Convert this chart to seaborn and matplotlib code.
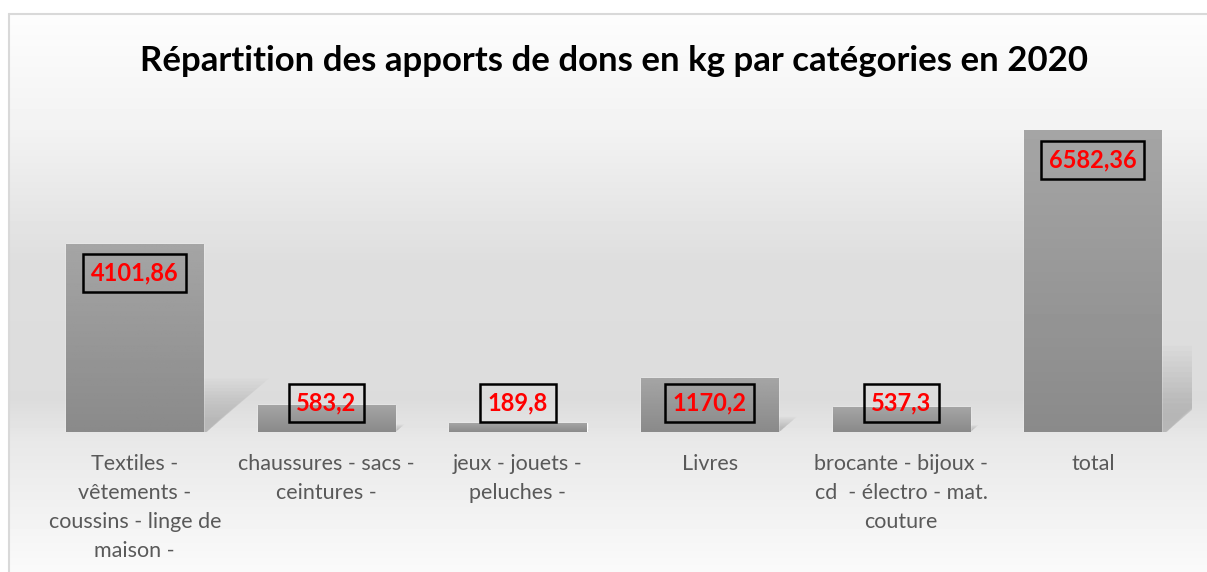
import numpy as np
import matplotlib.pyplot as plt
import seaborn as sns
from matplotlib.patches import Polygon

categories = [
    "Textiles -\nvêtements -\ncoussins - linge de\nmaison -",
    "chaussures - sacs -\nceintures -",
    "jeux - jouets -\npeluches -",
    "Livres",
    "brocante - bijoux -\ncd  - électro - mat.\ncouture",
    "total",
]
values = [4101.86, 583.2, 189.8, 1170.2, 537.3, 6582.36]
value_labels = ["4101,86", "583,2", "189,8", "1170,2", "537,3", "6582,36"]
title = "Répartition des apports de dons en kg par catégories en 2020"

sns.set_theme(style="white")
plt.rcParams['font.family'] = ['Lato', 'DejaVu Sans']

W, H = 1207, 572
fig = plt.figure(figsize=(W / 100, H / 100), dpi=100, facecolor="white")

# background: light grey gradient inside a thin frame
bg = fig.add_axes([0, 0, 1, 1], zorder=0)
bg.set_axis_off()
rows = np.arange(14, H)
grey = np.interp(rows, [14, 130, 260, 400, 440, 572], [253, 242, 222, 220, 232, 250]) / 255
bg.imshow(np.repeat(grey[:, None], 2, axis=1), cmap="gray", vmin=0, vmax=1,
          aspect="auto", extent=[9 / W, 1, 0, 1 - 14 / H])
bg.plot([9 / W, 1], [1 - 14 / H] * 2, color="#d9d9d9", lw=1.5)
bg.plot([9 / W] * 2, [0, 1 - 14 / H], color="#d9d9d9", lw=1.5)
bg.set_xlim(0, 1)
bg.set_ylim(0, 1)

# plot area
x_lo, x_hi = -0.5, 5.52
ymax = 7040
px_unit = 191.6
left_px = 39
ax = fig.add_axes([left_px / W, 140 / H, (x_hi - x_lo) * px_unit / W, 322 / H], zorder=1)
ax.patch.set_alpha(0)

bar_w = 0.717
sns.barplot(x=categories, y=values, ax=ax, color="#999999", width=bar_w,
            saturation=1, zorder=2)

# soft shadows to the right of each bar
for i, v in enumerate(values):
    r = i + bar_w / 2
    h = 0.26 * v
    dx = 0.076 * v / 1000
    n = 14
    for k in range(n):
        s = 1.1 - k / (n + 1)
        pts = [(r, 0), (r, h * s), (r + dx * s, h * s), (r + 0.05 * dx, 0)]
        ax.add_patch(Polygon(pts, closed=True, fc="#7a7a7a", ec="none",
                             alpha=0.03, zorder=1))

# vertical gradient on bars
grad = np.linspace(165, 138, 100)[:, None] / 255
for p in ax.patches[:len(values)]:
    x0, w, h = p.get_x(), p.get_width(), p.get_height()
    ax.imshow(grad, cmap="gray", vmin=0, vmax=1, aspect="auto",
              extent=[x0, x0 + w, 0, h], zorder=3)

# value labels
off = 0.09 * ymax
for i, (v, lab) in enumerate(zip(values, value_labels)):
    ax.text(i, max(v - off, off), lab, ha="center", va="center", color="red",
            fontsize=17, fontweight="bold", zorder=5,
            bbox=dict(boxstyle="square,pad=0.32", fc="none", ec="black", lw=1.8))

ax.set_xlim(x_lo, x_hi)
ax.set_ylim(0, ymax)
ax.set_yticks([])
ax.set_xlabel("")
ax.set_ylabel("")
ax.tick_params(axis="x", length=0, pad=16, labelsize=15.5, labelcolor="#595959")
for t in ax.get_xticklabels():
    t.set_linespacing(1.56)
sns.despine(ax=ax, left=True, bottom=True)

fig.text(613.5 / W, 1 - 61 / H, title, ha="center", va="center",
         fontsize=25, fontweight="bold", color="black")

fig.savefig("out.png", dpi=100)
